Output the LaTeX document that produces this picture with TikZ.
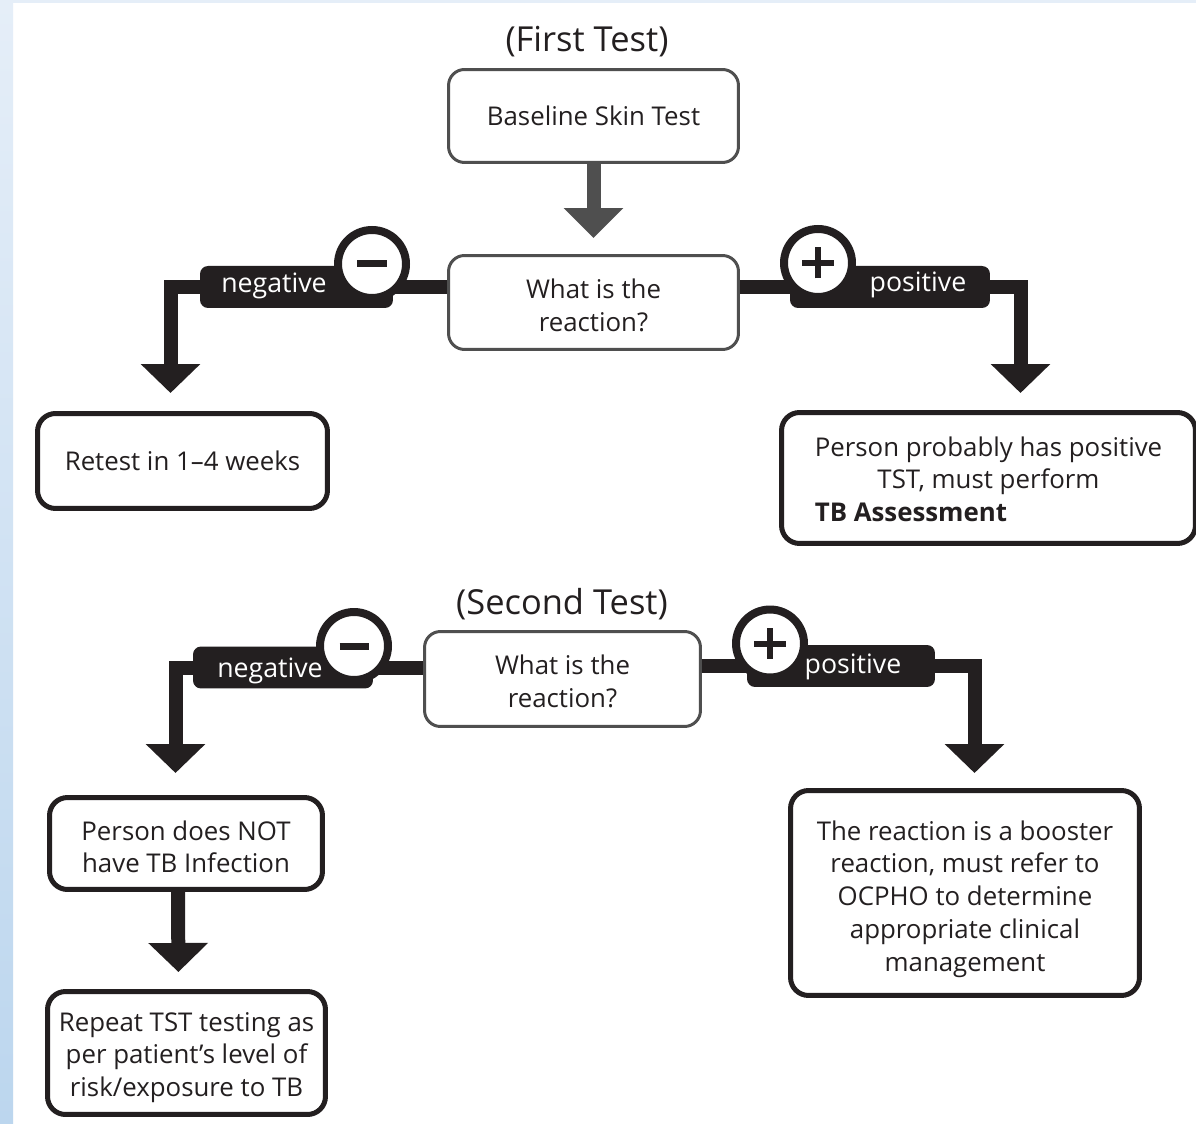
\documentclass[tikz,border=0pt]{standalone}
\usepackage{fontspec}
\setmainfont{Open Sans}
\usepackage{xcolor}
\usepackage{tikz}
\usetikzlibrary{arrows.meta}
\definecolor{ink}{HTML}{231F20}
\definecolor{boxgray}{HTML}{4F4F4F}
\definecolor{striptop}{HTML}{E5EEF8}
\definecolor{stripbot}{HTML}{BCD6EE}
\pgfdeclarelayer{back}
\pgfsetlayers{back,main}
\newcommand{\dropln}[1]{\rule{0pt}{#1}}	% taller first line, pushes text down

\begin{document}
\begin{tikzpicture}[x=0.02cm,y=-0.02cm,
  graybox/.style={draw=boxgray,line width=0.06cm,rounded corners=0.32cm,fill=white,align=center,text=ink,font=\fontsize{14.7}{18.7}\selectfont},
  blackbox/.style={draw=ink,line width=0.1cm,rounded corners=0.36cm,fill=white,align=center,text=ink,font=\fontsize{14.7}{18.7}\selectfont},
  bar/.style={draw=ink,line width=0.28cm,-{Triangle[width=1.16cm,length=0.58cm]}},
  grayarrow/.style={draw=boxgray,line width=0.28cm,-{Triangle[width=1.16cm,length=0.6cm]}},
  pill/.style={fill=ink,rounded corners=0.16cm,minimum height=0.84cm,inner sep=0pt},
  pilltext/.style={anchor=base,text=white,inner sep=0pt,font=\fontsize{15.2}{18}\selectfont},
  signring/.style={circle,draw=ink,fill=white,line width=0.16cm,minimum size=1.36cm,inner sep=0pt},
  sign/.style={draw=ink,line width=0.12cm},
  title/.style={text=ink,font=\fontsize{19.6}{23}\selectfont}]

\useasboundingbox (0,0) rectangle (1196,1124);

% first test
\node[title] (t1st) at (587,42) {(First Test)};
\node[graybox,minimum width=5.8cm,minimum height=1.86cm] (b0) at (593.5,116) {Baseline Skin Test};
\node[graybox,minimum width=5.8cm,minimum height=1.88cm] (q1) at (593.5,302.5) {\dropln{14pt}What is the\\reaction?};
\node[blackbox,minimum width=5.8cm,minimum height=1.9cm] (r1) at (182.5,461) {Retest in 1--4 weeks};
\node[blackbox,minimum width=8.28cm,minimum height=2.62cm] (r2) at (988.5,478)
  {\dropln{16pt}Person probably has positive\\TST, must perform\\\rlap{\textbf{TB Assessment}}\phantom{Person probably has positive}};

\node[pill,minimum width=3.86cm] (neg1) at (296.5,287) {};						% negative label
\node[pilltext] (neg1t) at (274,293) {negative};
\node[signring] (m1) at (372,264) {};
\draw[sign,line width=0.14cm] ([xshift=-0.3cm]m1.center) -- ([xshift=0.3cm]m1.center);

\node[pill,minimum width=4cm] (pos1) at (890,287) {};							% positive label
\node[pilltext] (pos1t) at (918,292) {positive};
\node[signring] (p1) at (818,263) {};
\draw[sign] ([xshift=-0.32cm]p1.center) -- ([xshift=0.32cm]p1.center);
\draw[sign] ([yshift=-0.31cm]p1.center) -- ([yshift=0.31cm]p1.center);

\coordinate (n1tip) at (170.5,393);
\coordinate (p1tip) at (1020.5,393);

% second test
\node[title] (t2nd) at (562,604) {(Second Test)};
\node[graybox,minimum width=5.52cm,minimum height=1.9cm] (q2) at (562.5,679) {\dropln{14pt}What is the\\reaction?};
\node[blackbox,minimum width=5.46cm,minimum height=1.84cm] (r4) at (186,843.5) {\dropln{15pt}Person does NOT\\have TB Infection};
\node[blackbox,minimum width=5.56cm,minimum height=2.46cm] (r5) at (186.5,1053)
  {\dropln{16pt}Repeat TST testing as\\per patient’s level of\\risk/exposure to TB};
\node[blackbox,minimum width=6.98cm,minimum height=4.1cm] (r3) at (965,893)
  {\dropln{18pt}The reaction is a booster\\reaction, must refer to\\OCPHO to determine\\appropriate clinical\\management};

\node[pill,minimum width=3.6cm] (neg2) at (283,667.5) {};						% negative label
\node[pilltext] (neg2t) at (270,677) {negative};
\node[signring] (m2) at (354,646) {};
\draw[sign,line width=0.14cm] ([xshift=-0.29cm]m2.center) -- ([xshift=0.29cm]m2.center);

\node[pill,minimum width=3.76cm] (pos2) at (841,666) {};						% positive label
\node[pilltext] (pos2t) at (853,673) {positive};
\node[signring] (p2) at (770,643.5) {};
\draw[sign] ([xshift=-0.32cm]p2.center) -- ([xshift=0.32cm]p2.center);
\draw[sign] ([yshift=-0.31cm]p2.center) -- ([yshift=0.31cm]p2.center);

\coordinate (n2tip) at (175.5,773);
\coordinate (p2tip) at (974.5,773);

\begin{pgfonlayer}{back}
\fill[white] (0,0) rectangle (1196,1124);
\shade[top color=striptop,bottom color=stripbot] (0,0) rectangle (13,1124);	% blue margin left
\fill[striptop] (13,0) rectangle (1196,3);										% blue margin top
\draw[grayarrow,shorten >=0.32cm] (b0.south) -- (q1.north);						% baseline -> reaction
\draw[bar] (q1.west |- neg1) -| (n1tip);
\draw[bar] (q1.east |- pos1) -| (p1tip);
\draw[bar] (q2.west |- neg2) -| (n2tip);
\draw[bar] (q2.east |- pos2) -| (p2tip);
\draw[bar,shorten >=0.34cm] ([xshift=-0.16cm]r4.south) -- ([xshift=-0.16cm]r5.north);
\end{pgfonlayer}

\end{tikzpicture}
\end{document}
